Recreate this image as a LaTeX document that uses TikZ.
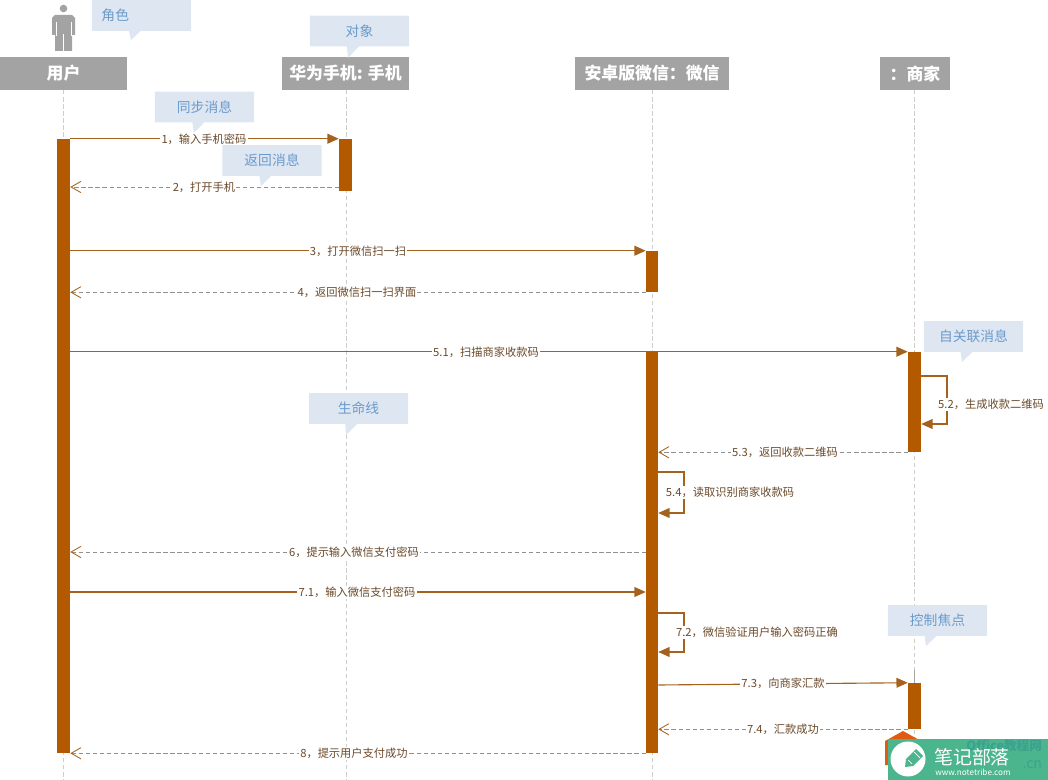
\documentclass[tikz,border=0pt]{standalone}
\usepackage{fontspec}
\setmainfont{Noto Sans CJK SC}
\usepackage{tikz}
\usetikzlibrary{arrows.meta, positioning, fit, shapes.callouts}
\definecolor{barbrown}{HTML}{B35A00}
\definecolor{linebrown}{HTML}{A5621E}
\definecolor{textbrown}{HTML}{6B4A2A}
\definecolor{headgray}{HTML}{A3A3A3}
\definecolor{lifegray}{HTML}{CDCDCD}
\definecolor{notefill}{HTML}{DEE6F2}
\definecolor{noteblue}{HTML}{6A9BCB}
\definecolor{markgreen}{HTML}{4BB58D}
\definecolor{markteal}{HTML}{3AA28F}
\definecolor{markorange}{HTML}{E05A10}
\tikzset{
  head/.style={fill=headgray, text=white, inner sep=0, minimum height=0.825cm, font=\fontsize{12}{14}\selectfont\bfseries},
  life/.style={lifegray, densely dashed, line width=0.7pt},
  actbar/.style={fill=barbrown, inner sep=0},
  sync/.style={linebrown, line width=0.8pt, -{Triangle[length=8pt,width=7pt]}},
  back/.style={lifegray!70!black, densely dashed, line width=0.6pt, -{Straight Barb[length=7pt,width=8pt,linebrown]}},
  msg/.style={fill=white, text=textbrown, inner sep=0.8pt, font=\fontsize{8}{9.5}\selectfont},
  note/.style={rectangle callout, fill=notefill, text=noteblue, inner sep=0, minimum width=2.475cm, minimum height=0.77cm,
    callout pointer width=0.3cm, font=\fontsize{9.8}{11}\selectfont}
}
\begin{document}
\begin{tikzpicture}[x=0.025cm, y=-0.025cm]
\useasboundingbox (0,0) rectangle (1048,780);

% actor figure
\fill[headgray] (63.5,8.5) circle (3.8);
\fill[headgray] (52,18) -- (55,15) -- (72,15) -- (75,18) -- (75,35) -- (72,35) -- (72,51) -- (55,51) -- (55,35) -- (52,35) -- cycle;
\draw[white, line width=0.5pt] (56,22) -- (56,36) (71,22) -- (71,36) (63.5,34) -- (63.5,51);

% heads
\node[head, minimum width=3.175cm] (user) at (63.5,73.5) {用户};
\node[head, minimum width=3.175cm] (phone) at (345.5,73.5) {华为手机: 手机};
\node[head, minimum width=3.85cm] (wechat) at (652,73.5) {安卓版微信：微信};
\node[head, minimum width=1.75cm] (shop) at (915,73.5) {：商家};

% lifelines
\foreach \n/\x in {user/63,phone/346,wechat/652,shop/914} {
  \coordinate (\n end) at (\x,780);
  \draw[life] (\n.south -| \n end) -- (\n end);
}

% activation bars
\node[actbar, fit={(57,139) (70,753)}] (baruser) {};
\node[actbar, fit={(339,139) (352,191)}] (barphone) {};
\node[actbar, fit={(646,251) (658,292)}] (barwx) {};
\node[actbar, fit={(646,352) (658,753)}] (barpay) {};
\node[actbar, fit={(908,352) (921,452)}] (barshop) {};
\node[actbar, fit={(908,683) (921,729)}] (barcash) {};
\coordinate (focus) at (914,670);
\draw[headgray, line width=0.7pt] (focus) -- (barcash.north -| focus);

% calls and returns
\draw[sync] (barphone.north west -| baruser.east) -- (barphone.north west);
\draw[back] (barphone.west |- 0,187) -- (baruser.east |- 0,187);
\draw[sync] (barwx.north west -| baruser.east) -- (barwx.north west);
\draw[back] (barwx.south west) -- (barwx.south west -| baruser.east);
\draw[sync] (barshop.north west -| baruser.east) -- (barshop.north west);
\draw[back] (barshop.south west) -- (barshop.south west -| barpay.east);
\draw[back] (barpay.west |- 0,552) -- (baruser.east |- 0,552);
\draw[sync] (baruser.east |- 0,592) -- (barpay.west |- 0,592);
\draw[sync] (barpay.east |- 0,685) -- (barcash.north west);
\draw[back] (barcash.south west) -- (barcash.south west -| barpay.east);
\draw[back] (barpay.south west) -- (barpay.south west -| baruser.east);

% self calls
\draw[sync] (barshop.east |- 0,376) -- (947,376) -- (947,424) -- (barshop.east |- 0,424);
\draw[sync] (barpay.east |- 0,472) -- (684,472) -- (684,513) -- (barpay.east |- 0,513);
\draw[sync] (barpay.east |- 0,613) -- (684,613) -- (684,652) -- (barpay.east |- 0,652);

% message labels
\node[msg] (m1) at (204,139.5) {1，输入手机密码};
\node[msg] (m2) at (204,187.5) {2，打开手机};
\node[msg] (m3) at (358,251.5) {3，打开微信扫一扫};
\node[msg] (m4) at (357,292.5) {4，返回微信扫一扫界面};
\node[msg] (m51) at (486,352.5) {5.1，扫描商家收款码};
\node[msg] (m52) at (991,404.5) {5.2，生成收款二维码};
\node[msg] (m53) at (785,452.5) {5.3，返回收款二维码};
\node[msg] (m54) at (730,492.5) {5.4，读取识别商家收款码};
\node[msg] (m6) at (354,552.5) {6，提示输入微信支付密码};
\node[msg] (m71) at (357,592.5) {7.1，输入微信支付密码};
\node[msg] (m72) at (757,632.5) {7.2，微信验证用户输入密码正确};
\node[msg] (m73) at (783,683.5) {7.3，向商家汇款};
\node[msg] (m74) at (783,729.5) {7.4，汇款成功};
\node[msg] (m8) at (354,753.5) {8，提示用户支付成功};

% callouts
\node[note, callout absolute pointer={(131,40)}, align=left, text width=2.0cm] (nactor) at (141.5,15.5) {角色};
\node[note, callout absolute pointer={(348,58)}] (nobject) at (359.5,31) {对象};
\node[note, callout absolute pointer={(194,133)}] (nsync) at (204.5,107) {同步消息};
\node[note, callout absolute pointer={(261,186)}] (nback) at (272,160.5) {返回消息};
\node[note, callout absolute pointer={(346,435)}] (nlife) at (358.5,408.5) {生命线};
\node[note, callout absolute pointer={(962,362)}] (nself) at (973.5,336.5) {自关联消息};
\node[note, callout absolute pointer={(926,646)}] (nfocus) at (937.5,620.5) {控制焦点};

% site mark
\fill[markorange] (885,741) -- (903,731) -- (921,741) -- (921,765) -- (885,765) -- cycle;
\fill[markgreen] (888,739) rectangle (1048,780);
\node[anchor=east, text=markteal, font=\fontsize{9}{11}\selectfont\bfseries] (mbrand) at (1047,745.5) {Office教程网};
\node[anchor=east, text=markteal, font=\fontsize{10}{12}\selectfont] (mcn) at (1047,765) {.cn};
\fill[white] (908,759) circle (17.5);
\fill[markgreen] (905,767) -- (906,759) -- (916,749) -- (923,756) -- (913,766) -- cycle;
\draw[white, line width=0.5pt] (908,760) -- (912,764) (914,752) -- (920,758);
\node[text=white, font=\fontsize{13.5}{16}\selectfont] (mname) at (972,757) {笔记部落};
\node[text=white, font=\fontsize{5.8}{7}\selectfont] (murl) at (973,772) {www.notetribe.com};
\end{tikzpicture}
\end{document}
